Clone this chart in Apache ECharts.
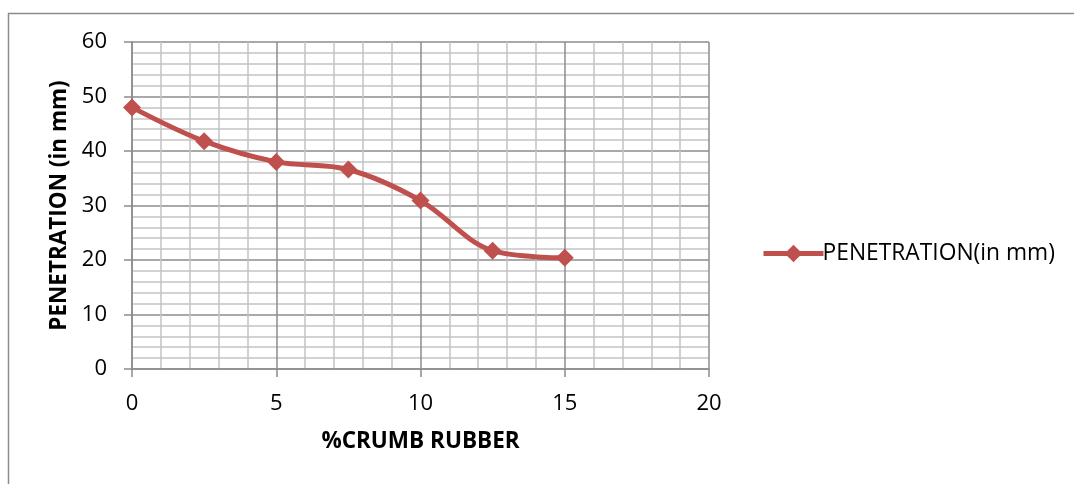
<!DOCTYPE html>
<html>
<head>
<meta charset="utf-8">
<script src="https://cdn.jsdelivr.net/npm/echarts@6/dist/echarts.min.js"></script>
<style>
html,body{margin:0;padding:0;background:#fff;}
#chart{width:1074px;height:484px;}
</style>
</head>
<body>
<div id="chart"></div>
<script>
var crumbRubber = [0, 2.5, 5, 7.5, 10, 12.5, 15];
var penetration = [48, 41.8, 38, 36.6, 30.9, 21.7, 20.4];
var seriesName = 'PENETRATION(in mm)';
var xTitle = '%CRUMB RUBBER';
var yTitle = 'PENETRATION (in mm)';

var font = '"Open Sans", Lato, sans-serif';
var chart = echarts.init(document.getElementById('chart'));
var points = crumbRubber.map(function (x, i) { return [x, penetration[i]]; });

chart.setOption({
  animation: false,
  textStyle: { fontFamily: font },
  graphic: [{
    type: 'rect',
    shape: { x: 8.5, y: 13.5, width: 1100, height: 600 },
    style: { fill: 'none', stroke: '#8c8c8c', lineWidth: 1.5 },
    silent: true
  }],
  grid: { left: 132, top: 42, width: 577, height: 327, containLabel: false },
  legend: {
    left: 756, top: 237,
    itemWidth: 60, itemHeight: 22, itemGap: 4,
    textStyle: { fontFamily: font, fontSize: 22.8, color: '#000', padding: [0, 0, 0, -6] },
    lineStyle: { width: 5 },
    data: [seriesName]
  },
  xAxis: {
    type: 'value', min: 0, max: 20, interval: 5,
    name: xTitle, nameLocation: 'middle', nameGap: 61,
    nameTextStyle: { fontFamily: font, fontSize: 22.5, fontWeight: 'bold', color: '#000' },
    axisLine: { show: true, lineStyle: { color: '#8c8c8c', width: 1.5 } },
    axisTick: { show: true, length: 8, lineStyle: { color: '#8c8c8c', width: 1.5 } },
    axisLabel: { fontFamily: font, fontSize: 22, color: '#000', margin: 24 },
    splitLine: { show: true, lineStyle: { color: '#8c8c8c', width: 1.5 } },
    minorTick: { show: false, splitNumber: 5 },
    minorSplitLine: { show: true, lineStyle: { color: '#c4c4c4', width: 1.5 } }
  },
  yAxis: {
    type: 'value', min: 0, max: 60, interval: 10,
    name: yTitle, nameLocation: 'middle', nameGap: 58, nameRotate: 90,
    nameTextStyle: { fontFamily: font, fontSize: 22.5, fontWeight: 'bold', color: '#000' },
    axisLine: { show: true, lineStyle: { color: '#8c8c8c', width: 1.5 } },
    axisTick: { show: true, length: 8, lineStyle: { color: '#8c8c8c', width: 1.5 } },
    axisLabel: { fontFamily: font, fontSize: 22, color: '#000', margin: 25 },
    splitLine: { show: true, lineStyle: { color: '#8c8c8c', width: 1.5 } },
    minorTick: { show: false, splitNumber: 5 },
    minorSplitLine: { show: true, lineStyle: { color: '#c4c4c4', width: 1.5 } }
  },
  series: [{
    name: seriesName,
    type: 'line',
    data: points,
    smooth: 0.35,
    symbol: 'diamond',
    symbolSize: 18,
    lineStyle: { color: '#C0504D', width: 5 },
    itemStyle: { color: '#C0504D' }
  }]
});
</script>
</body>
</html>
